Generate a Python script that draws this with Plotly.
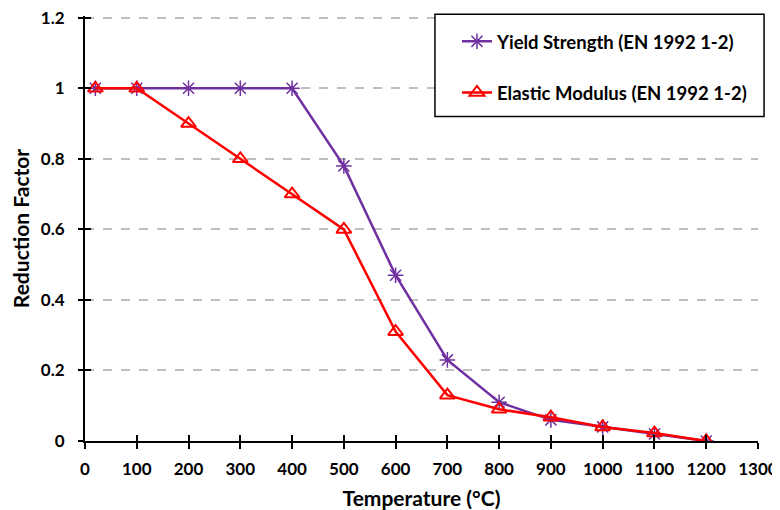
import plotly.graph_objects as go

temps = [20, 100, 200, 300, 400, 500, 600, 700, 800, 900, 1000, 1100, 1200]
yield_strength = [1, 1, 1, 1, 1, 0.78, 0.47, 0.23, 0.11, 0.06, 0.04, 0.02, 0]
elastic_modulus = [1, 1, 0.9, 0.8, 0.7, 0.6, 0.31, 0.13, 0.09, 0.0675, 0.04, 0.0225, 0]
x_ticks = list(range(0, 1301, 100))
y_ticks = [0, 0.2, 0.4, 0.6, 0.8, 1, 1.2]
y_tick_labels = ["0", "0.2", "0.4", "0.6", "0.8", "1", "1.2"]

FONT = "Lato"
fig = go.Figure()
fig.add_trace(go.Scatter(
    x=temps, y=yield_strength, mode="lines+markers",
    name="<b>Yield Strength (EN 1992 1-2)</b>", legendgroup="a",
    line=dict(color="#7030A0", width=2.5),
    marker=dict(symbol="asterisk-open", size=13, color="#7030A0", line=dict(color="#7030A0", width=1.5)),
))
fig.add_trace(go.Scatter(
    x=temps, y=elastic_modulus, mode="lines+markers",
    name="<b>Elastic Modulus (EN 1992 1-2)</b>", legendgroup="b",
    line=dict(color="#FF0000", width=2.5),
    marker=dict(symbol="triangle-up-open", size=13, color="#FF0000", line=dict(color="#FF0000", width=2)),
))
# invisible trace so the overlaid axes (cross ticks) are drawn
fig.add_trace(go.Scatter(x=[0], y=[0], xaxis="x2", yaxis="y2", mode="markers",
                         marker=dict(opacity=0), showlegend=False, hoverinfo="skip"))

YR = [0, 1.205]
XR = [0, 1300.05]
fig.update_layout(
    width=772, height=502,
    margin=dict(l=77, r=22, t=8, b=69),
    paper_bgcolor="white", plot_bgcolor="white",
    font=dict(family=FONT, size=17, color="#000000"),
    xaxis=dict(
        range=XR, tickvals=x_ticks, ticktext=["<b>%d</b>" % v for v in x_ticks],
        showgrid=False, zeroline=False, showline=True, linecolor="black", linewidth=2,
        ticks="outside", ticklen=6, tickwidth=2, tickcolor="black", automargin=False,
        ticklabelstandoff=6, ticklabeloverflow="allow",
        tickfont=dict(family=FONT, size=17, color="black"),
        title=dict(text="<b>Temperature (°C)</b>", font=dict(family=FONT, size=21), standoff=14),
    ),
    yaxis=dict(
        range=YR, tickvals=y_ticks, ticktext=["<b>%s</b>" % t for t in y_tick_labels],
        showgrid=True, gridcolor="#BFBFBF", griddash="dash", gridwidth=1.5,
        zeroline=False, showline=True, linecolor="black", linewidth=2,
        ticks="outside", ticklen=5, tickwidth=2, tickcolor="black", automargin=False,
        ticklabelstandoff=10, ticklabeloverflow="allow",
        tickfont=dict(family=FONT, size=17, color="black"),
        title=dict(text="<b>Reduction Factor</b>", font=dict(family=FONT, size=21), standoff=6),
    ),
    xaxis2=dict(
        range=XR, tickvals=x_ticks, overlaying="x", anchor="y", side="bottom",
        showticklabels=False, showgrid=False, zeroline=False, showline=False,
        ticks="inside", ticklen=6, tickwidth=2, tickcolor="black",
    ),
    yaxis2=dict(
        range=YR, tickvals=y_ticks, overlaying="y", anchor="x", side="left",
        showticklabels=False, showgrid=False, zeroline=False, showline=False,
        ticks="inside", ticklen=6, tickwidth=2, tickcolor="black",
    ),
    legend=dict(
        x=0.52, y=0.984, xanchor="left", yanchor="top",
        bgcolor="rgba(0,0,0,0)", borderwidth=0,
        font=dict(family=FONT, size=18.5, color="black"),
        tracegroupgap=24, indentation=22,
    ),
    showlegend=True,
    shapes=[dict(
        type="rect", xref="paper", yref="paper",
        x0=0.520, x1=1.009, y0=0.7636, y1=1.004,
        line=dict(color="black", width=1.5), fillcolor="white", layer="above",
    )],
)

fig.write_html("out.html")
